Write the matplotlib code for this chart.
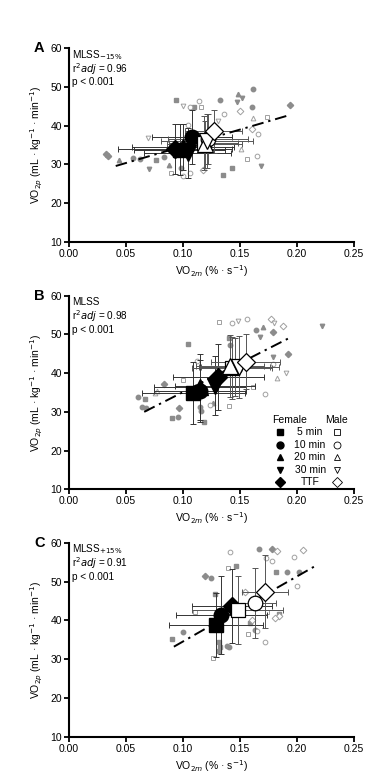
import numpy as np
import matplotlib.pyplot as plt

plt.rcParams["font.family"] = ["Liberation Sans", "DejaVu Sans"]

# ---- panel A (MLSS-15%) individual values ----
a_f_x = [0.0325, 0.034, 0.044, 0.056, 0.062, 0.076, 0.083, 0.070, 0.088, 0.094,
         0.1325, 0.148, 0.152, 0.1477, 0.1617, 0.1608, 0.194, 0.135, 0.143, 0.168, 0.110, 0.098]
a_f_y = [32.8, 32.3, 31.1, 31.6, 31.3, 31.1, 32.0, 28.7, 29.8, 46.6,
         46.6, 48.1, 47.1, 46.0, 49.4, 44.7, 45.3, 27.4, 29.0, 29.7, 44.7, 29.0]
a_f_m = ["D", "D", "^", "o", "o", "s", "o", "v", "^", "s",
         "o", "^", "v", "v", "o", "o", "D", "s", "s", "v", "s", "o"]
a_m_x = [0.0696, 0.1003, 0.106, 0.1158, 0.1143, 0.136, 0.131, 0.1497, 0.1617, 0.1734,
         0.1608, 0.1655, 0.1506, 0.1564, 0.1646, 0.0892, 0.1003, 0.106, 0.1178, 0.1047]
a_m_y = [36.9, 45.1, 44.7, 44.7, 46.4, 42.9, 41.2, 43.8, 41.9, 42.3,
         39.1, 37.8, 34.0, 31.4, 32.2, 27.8, 27.0, 27.7, 28.5, 40.2]
a_m_m = ["v", "v", "o", "s", "o", "o", "v", "D", "^", "s",
         "D", "o", "^", "s", "o", "s", "o", "o", "D", "o"]

# ---- panel A group means ----
a_mf_x = [0.097, 0.108, 0.100, 0.104, 0.093]
a_mf_y = [33.8, 37.0, 34.5, 33.0, 34.0]
a_mf_xe = [0.040, 0.035, 0.045, 0.038, 0.050]
a_mf_ye = [6.5, 7.0, 6.0, 6.5, 6.5]
a_mm_x = [0.118, 0.122, 0.119, 0.121, 0.127]
a_mm_y = [35.5, 36.5, 35.2, 36.0, 38.5]
a_mm_xe = [0.030, 0.035, 0.033, 0.040, 0.025]
a_mm_ye = [7.0, 6.5, 6.0, 7.0, 5.5]
a_fit_x = [0.041, 0.192]
a_fit_y = [29.6, 42.6]

# ---- panel B (MLSS) individual values ----
b_f_x = [0.0608, 0.0637, 0.0673, 0.0667, 0.0836, 0.090, 0.0959, 0.0965, 0.115, 0.116,
         0.104, 0.1266, 0.164, 0.1705, 0.179, 0.1675, 0.1924, 0.2216, 0.141, 0.1406,
         0.1787, 0.1184]
b_f_y = [33.8, 31.3, 31.0, 33.3, 37.1, 28.3, 28.8, 31.1, 31.3, 30.1,
         47.5, 32.2, 51.1, 52.0, 50.5, 49.4, 44.9, 52.3, 47.3, 49.2,
         44.1, 27.5]
b_f_m = ["o", "o", "o", "s", "D", "s", "o", "D", "o", "o",
         "s", "^", "o", "^", "D", "v", "D", "v", "o", "s",
         "v", "s"]
b_m_x = [0.1319, 0.1433, 0.1485, 0.156, 0.1769, 0.1798, 0.188, 0.0997, 0.112, 0.1904,
         0.1827, 0.1792, 0.1722, 0.1617, 0.1406, 0.1237, 0.0754, 0.077]
b_m_y = [53.3, 52.9, 53.5, 54.0, 53.9, 52.9, 52.2, 38.2, 43.1, 40.0,
         38.8, 42.3, 34.5, 36.3, 31.5, 31.8, 34.8, 35.4]
b_m_m = ["s", "o", "v", "o", "D", "v", "D", "s", "o", "v",
         "^", "o", "o", "s", "s", "o", "^", "^"]

b_mf_x = [0.109, 0.115, 0.115, 0.128, 0.131]
b_mf_y = [34.8, 35.3, 36.5, 36.8, 39.0]
b_mf_xe = [0.045, 0.040, 0.040, 0.035, 0.040]
b_mf_ye = [8.0, 8.0, 8.5, 7.5, 8.5]
b_mm_x = [0.143, 0.146, 0.141, 0.149, 0.155]
b_mm_y = [41.3, 41.5, 41.8, 41.6, 43.0]
b_mm_xe = [0.035, 0.030, 0.030, 0.035, 0.030]
b_mm_ye = [8.0, 7.5, 8.0, 8.0, 7.0]
b_fit_x = [0.066, 0.194]
b_fit_y = [30.0, 49.2]

# ---- panel C (MLSS+15%) individual values ----
c_f_x = [0.0903, 0.0999, 0.1196, 0.1249, 0.1278, 0.1319, 0.1328, 0.1319, 0.1386, 0.140,
         0.1468, 0.1665, 0.1782, 0.182, 0.1914, 0.2016, 0.1591, 0.1635, 0.184]
c_f_y = [35.3, 36.9, 51.5, 51.0, 46.7, 34.5, 33.2, 32.1, 33.5, 33.0,
         54.0, 58.5, 58.5, 52.4, 52.5, 52.5, 39.2, 37.5, 41.6]
c_f_m = ["s", "o", "D", "o", "s", "s", "s", "s", "o", "o",
         "s", "o", "D", "s", "o", "o", "s", "o", "s"]
c_m_x = [0.141, 0.1395, 0.1108, 0.1263, 0.1547, 0.1732, 0.1782, 0.1826, 0.1972, 0.2052,
         0.1996, 0.184, 0.1811, 0.1723, 0.1571, 0.1606, 0.165, 0.1738]
c_m_y = [57.5, 53.4, 42.2, 30.2, 47.2, 56.0, 55.3, 57.9, 56.4, 58.1,
         48.8, 41.1, 40.7, 34.5, 36.5, 40.2, 37.2, 42.2]
c_m_m = ["o", "s", "s", "s", "D", "o", "o", "D", "o", "D",
         "o", "D", "D", "o", "s", "D", "o", "s"]

c_mf_x = [0.129, 0.1336, 0.143]
c_mf_y = [38.8, 41.3, 43.6]
c_mf_xe = [0.041, 0.040, 0.035]
c_mf_ye = [8.3, 10.0, 9.5]
c_mf_m = ["s", "o", "D"]
c_mm_x = [0.148, 0.1635, 0.172]
c_mm_y = [42.6, 44.4, 47.4]
c_mm_xe = [0.040, 0.018, 0.020]
c_mm_ye = [8.8, 9.0, 9.4]
c_mm_m = ["s", "o", "D"]
c_fit_x = [0.092, 0.216]
c_fit_y = [33.2, 54.0]

group_markers = ["s", "o", "^", "v", "D"]
group_labels = ["5 min", "10 min", "20 min", "30 min", "TTF"]
mean_size = {"s": 10, "o": 10.5, "^": 11, "v": 11, "D": 9}


def draw_panel(ax, fx, fy, fm, mx, my, mm,
               mfx, mfy, mfxe, mfye, mfm,
               mmx, mmy, mmxe, mmye, mmm, fitx, fity):
    # individual subjects
    for x, y, m in zip(fx, fy, fm):
        ax.plot(x, y, m, ms=3.2, color="#8c8c8c", mec="#8c8c8c", zorder=2)
    for x, y, m in zip(mx, my, mm):
        ax.plot(x, y, m, ms=3.4, mfc="white", mec="#a0a0a0", mew=0.7, zorder=2)
    # error bars of the means
    ax.errorbar(mfx, mfy, xerr=mfxe, yerr=mfye, fmt="none", ecolor="#333333",
                elinewidth=0.7, capsize=2, capthick=0.7, zorder=3)
    ax.errorbar(mmx, mmy, xerr=mmxe, yerr=mmye, fmt="none", ecolor="#555555",
                elinewidth=0.7, capsize=2, capthick=0.7, zorder=3)
    ax.plot(fitx, fity, color="black", lw=1.4, ls=(0, (6, 2.5, 1.2, 2.5)), zorder=4)
    for x, y, m in zip(mfx, mfy, mfm):
        ax.plot(x, y, m, ms=mean_size[m], color="black", zorder=5)
    for x, y, m in zip(mmx, mmy, mmm):
        ax.plot(x, y, m, ms=mean_size[m], mfc="white", mec="black", mew=0.9, zorder=6)

    ax.set_xlim(0, 0.25)
    ax.set_ylim(10, 60)
    ax.set_xticks(np.arange(0, 0.26, 0.05))
    ax.set_xticklabels(["0.00", "0.05", "0.10", "0.15", "0.20", "0.25"])
    ax.set_yticks(np.arange(10, 61, 10))
    for s in ["top", "right"]:
        ax.spines[s].set_visible(False)
    for s in ["left", "bottom"]:
        ax.spines[s].set_linewidth(1.5)
    ax.tick_params(direction="out", length=3.5, width=1.3, labelsize=7.5, pad=1.5)
    ax.set_ylabel("VO$_{2p}$ (mL · kg$^{-1}$ · min$^{-1}$)", fontsize=7.5, labelpad=4)
    ax.set_xlabel("VO$_{2m}$ (% · s$^{-1}$)", fontsize=7.5, labelpad=3)


fig = plt.figure(figsize=(3.78, 7.80), dpi=100)
axA = fig.add_axes([0.1825, 0.6897, 0.754, 0.2487])
axB = fig.add_axes([0.1825, 0.3727, 0.754, 0.2482])
axC = fig.add_axes([0.1825, 0.0555, 0.754, 0.2487])

draw_panel(axA, a_f_x, a_f_y, a_f_m, a_m_x, a_m_y, a_m_m,
           a_mf_x, a_mf_y, a_mf_xe, a_mf_ye, group_markers,
           a_mm_x, a_mm_y, a_mm_xe, a_mm_ye, group_markers, a_fit_x, a_fit_y)
draw_panel(axB, b_f_x, b_f_y, b_f_m, b_m_x, b_m_y, b_m_m,
           b_mf_x, b_mf_y, b_mf_xe, b_mf_ye, group_markers,
           b_mm_x, b_mm_y, b_mm_xe, b_mm_ye, group_markers, b_fit_x, b_fit_y)
draw_panel(axC, c_f_x, c_f_y, c_f_m, c_m_x, c_m_y, c_m_m,
           c_mf_x, c_mf_y, c_mf_xe, c_mf_ye, c_mf_m,
           c_mm_x, c_mm_y, c_mm_xe, c_mm_ye, c_mm_m, c_fit_x, c_fit_y)

stats = [("MLSS$_{-15\\%}$", "0.96"), ("MLSS", "0.98"), ("MLSS$_{+15\\%}$", "0.91")]
for ax, letter, (name, r2) in zip([axA, axB, axC], "ABC", stats):
    ax.text(0.01, 0.965, name, transform=ax.transAxes, fontsize=7.2, va="center")
    ax.text(0.01, 0.893, "r$^2$$\\it{adj}$ = " + r2, transform=ax.transAxes,
            fontsize=7.2, va="center")
    ax.text(0.01, 0.823, "p < 0.001", transform=ax.transAxes, fontsize=7.2,
            va="center")
    ax.text(-0.085, 1.0, letter, transform=ax.transAxes, fontsize=10.5,
            fontweight="bold", va="center", ha="right")

# legend of panel B
axB.text(0.775, 0.357, "Female", transform=axB.transAxes, fontsize=7.5,
         ha="center", va="center")
axB.text(0.937, 0.357, "Male", transform=axB.transAxes, fontsize=7.5,
         ha="center", va="center")
for i, (m, lab) in enumerate(zip(group_markers, group_labels)):
    yy = 0.294 - i * 0.064
    axB.plot(0.740, yy, m, ms=5, color="black", transform=axB.transAxes, clip_on=False)
    axB.text(0.846, yy, lab, transform=axB.transAxes, fontsize=7.5,
             ha="center", va="center")
    axB.plot(0.940, yy, m, ms=5, mfc="white", mec="black", mew=0.6,
             transform=axB.transAxes, clip_on=False)

fig.savefig("out.png", dpi=100)
